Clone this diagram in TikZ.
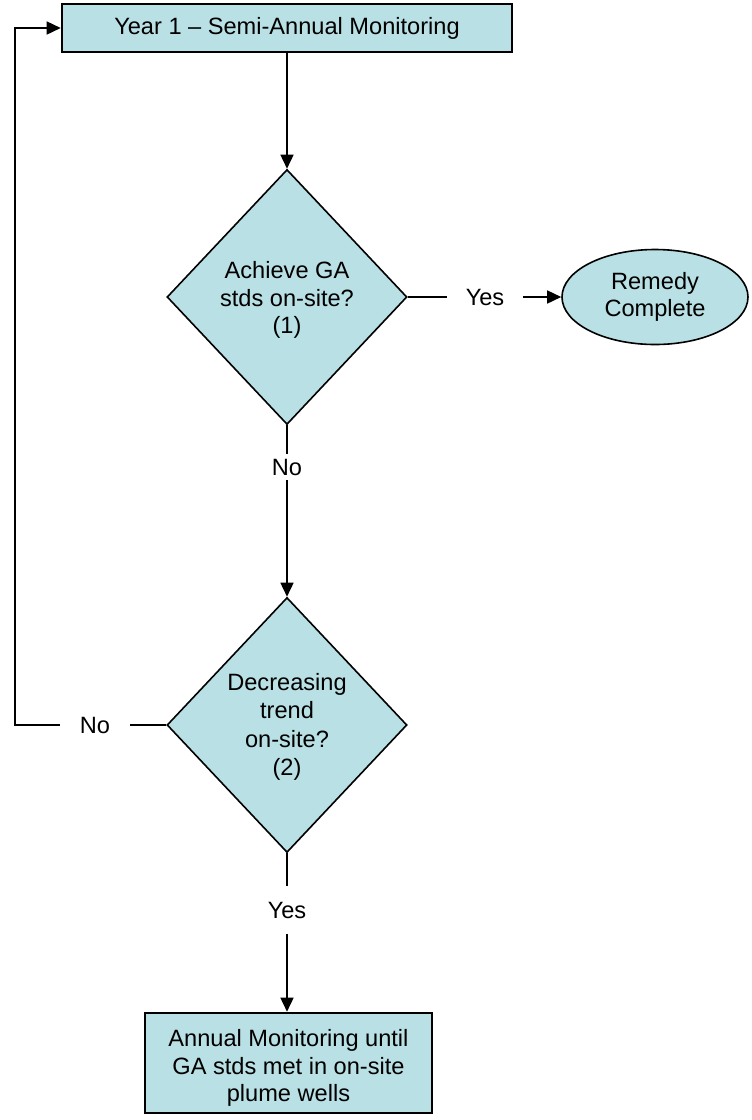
\documentclass[tikz,border=0pt]{standalone}
\usepackage{fontspec}
\setmainfont{Liberation Sans}
\usetikzlibrary{shapes.geometric,arrows.meta}
\definecolor{boxfill}{RGB}{185,224,228}
\tikzset{
  base/.style={font=\fontsize{23.6}{27.5}\selectfont, align=center},
  procbox/.style={draw, line width=2.6pt, fill=boxfill, inner sep=0pt},
  decision/.style={draw, line width=1.6pt, fill=boxfill, shape=diamond, inner sep=0pt, minimum width=240pt, minimum height=255pt},
  terminal/.style={base, draw, line width=1.6pt, fill=boxfill, shape=ellipse, inner sep=0pt, minimum width=186pt, minimum height=95pt},
  lbl/.style={base},
  conn/.style={line width=1.6pt},
  arr/.style={conn, -{Triangle[length=14pt,width=13pt]}}
}
\begin{document}
\begin{tikzpicture}[x=1pt,y=-1pt]
\useasboundingbox (0,0) rectangle (752,1120);
\node[procbox, base, minimum width=450pt, minimum height=48pt] (top) at (287,28) {Year 1 -- Semi-Annual Monitoring};
\node[decision] (d1) at (287,297) {};
\node[base] (d1t) at (287,300) {Achieve GA\\stds on-site?\\(1)};
\node[terminal] (rem) at (655,297) {Remedy\\Complete};
\node[decision] (d2) at (287,725) {};
\node[base, font=\fontsize{23.6}{28.5}\selectfont] (d2t) at (287,727) {Decreasing\\trend\\on-site?\\(2)};
\node[procbox, minimum width=287pt, minimum height=100pt] (bot) at (288.5,1063) {};
\node[base] (bott) at (288.5,1068) {Annual Monitoring until\\GA stds met in on-site\\plume wells};
\node[lbl, inner xsep=19pt, inner ysep=0pt] (yes1) at (485,297) {Yes};
\node[lbl, inner xsep=2pt, inner ysep=5pt] (no1) at (287,467) {No};
\node[lbl, inner xsep=20pt, inner ysep=0pt] (no2) at (95,725) {No};
\node[lbl, inner xsep=2pt, inner ysep=16pt] (yes2) at (287,910) {Yes};
\coordinate (loop) at (15,28);
\draw[arr] (top.south -| d1.north) -- (d1.north);
\draw[conn] (d1.east) -- (yes1.west);
\draw[arr] (yes1.east) -- (rem.west);
\draw[conn] (d1.south) -- (no1.north);
\draw[arr] (no1.south) -- (d2.north);
\draw[conn] (d2.west) -- (no2.east);
\draw[arr] (no2.west) -| (loop) -- (top.west);
\draw[conn] (d2.south) -- (yes2.north);
\draw[arr] (yes2.south) -- (yes2.south |- bot.north);
\end{tikzpicture}
\end{document}
